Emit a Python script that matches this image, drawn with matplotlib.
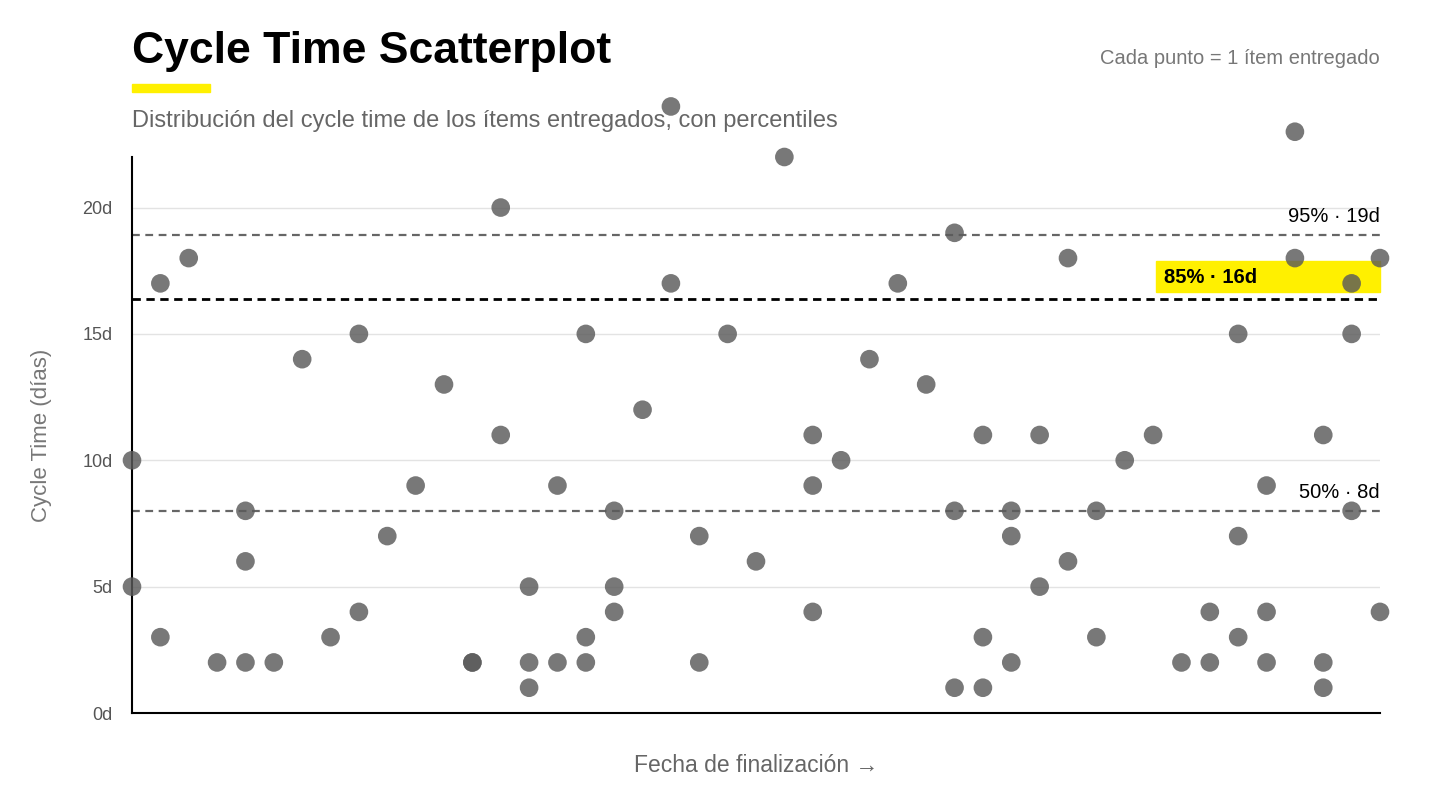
import matplotlib
matplotlib.use("Agg")
import matplotlib.pyplot as plt
from matplotlib.patches import Rectangle

plt.rcParams['font.family'] = ['Liberation Sans', 'DejaVu Sans']

# data: (completion index, cycle time days)
cols = {
    0: [10, 5], 1: [17, 3], 2: [18], 3: [2], 4: [8, 6, 2], 5: [2], 6: [14], 7: [3],
    8: [15, 4], 9: [7], 10: [9], 11: [13], 12: [2, 2], 13: [20, 11], 14: [5, 2, 1],
    15: [9, 2], 16: [15, 3, 2], 17: [8, 5, 4], 18: [12], 19: [24, 17], 20: [7, 2],
    21: [15], 22: [6], 23: [22], 24: [11, 9, 4], 25: [10], 26: [14], 27: [17],
    28: [13], 29: [19, 8, 1], 30: [11, 3, 1], 31: [8, 7, 2], 32: [11, 5],
    33: [18, 6], 34: [8, 3], 35: [10], 36: [11], 37: [2], 38: [4, 2],
    39: [15, 7, 3], 40: [9, 4, 2], 41: [23, 18], 42: [11, 2, 1], 43: [17, 15, 8],
    44: [18, 4],
}
xs = [k for k, v in cols.items() for _ in v]
ys = [y for k, v in cols.items() for y in v]
percentiles = [("50%", 8.0, "8d"), ("85%", 16.4, "16d"), ("95%", 18.9, "19d")]
yticks = [0, 5, 10, 15, 20]

fig = plt.figure(figsize=(14.4, 8.1), dpi=100)
ax = fig.add_axes([132/1440, 97/810, 1248/1440, 556/810])
ax.set_xlim(0, 44)
ax.set_ylim(0, 22)

for y in yticks:
    ax.axhline(y, color='#e3e3e3', lw=1, zorder=0)

for name, v, lab in percentiles:
    if name == "85%":
        ax.axhline(v, color='black', lw=2, ls=(0, (3, 2)), zorder=1)
    else:
        ax.axhline(v, color='#666666', lw=1.6, ls=(0, (3.5, 2.5)), zorder=1)

ax.text(44, 18.9 + 0.35, "95% · 19d", ha='right', va='bottom', fontsize=14.5, color='black')
ax.text(44, 8.0 + 0.35, "50% · 8d", ha='right', va='bottom', fontsize=14.5, color='black')
ax.add_patch(Rectangle((36.1, 16.4 + 0.25), 44 - 36.1, 1.25, color='#fff000', zorder=2, clip_on=False))
ax.text(36.4, 16.4 + 0.85, "85% · 16d", ha='left', va='center', fontsize=14.5,
        fontweight='bold', color='black', zorder=3)

ax.scatter(xs, ys, s=180, color='#5a5a5a', alpha=0.82, edgecolors='none', zorder=4, clip_on=False)

ax.set_xticks([])
ax.set_yticks(yticks)
ax.set_yticklabels([f"{t}d" for t in yticks], fontsize=13, color='#555555')
ax.tick_params(axis='y', length=0, pad=14)
for s in ['top', 'right']:
    ax.spines[s].set_visible(False)
for s in ['left', 'bottom']:
    ax.spines[s].set_color('black')
    ax.spines[s].set_linewidth(1.5)

ax.set_ylabel("Cycle Time (días)", fontsize=16, color='#777777', labelpad=22)
fig.text((132 + 1380) / 2 / 1440, 1 - 766/810, "Fecha de finalización →", ha='center', va='center',
         fontsize=16.5, color='#666666')

fig.text(132/1440, 1 - 51/810, "Cycle Time Scatterplot", ha='left', va='center', fontsize=32,
         fontweight='bold', color='black')
fig.patches.append(Rectangle((132/1440, 1 - 92/810), 78/1440, 8/810, transform=fig.transFigure,
                             color='#fff000', figure=fig))
fig.text(132/1440, 1 - 121/810, "Distribución del cycle time de los ítems entregados, con percentiles",
         ha='left', va='center', fontsize=17, color='#666666')
fig.text(1380/1440, 1 - 59/810, "Cada punto = 1 ítem entregado", ha='right', va='center',
         fontsize=14.5, color='#777777')

fig.savefig("out.png", dpi=100, facecolor='white')
